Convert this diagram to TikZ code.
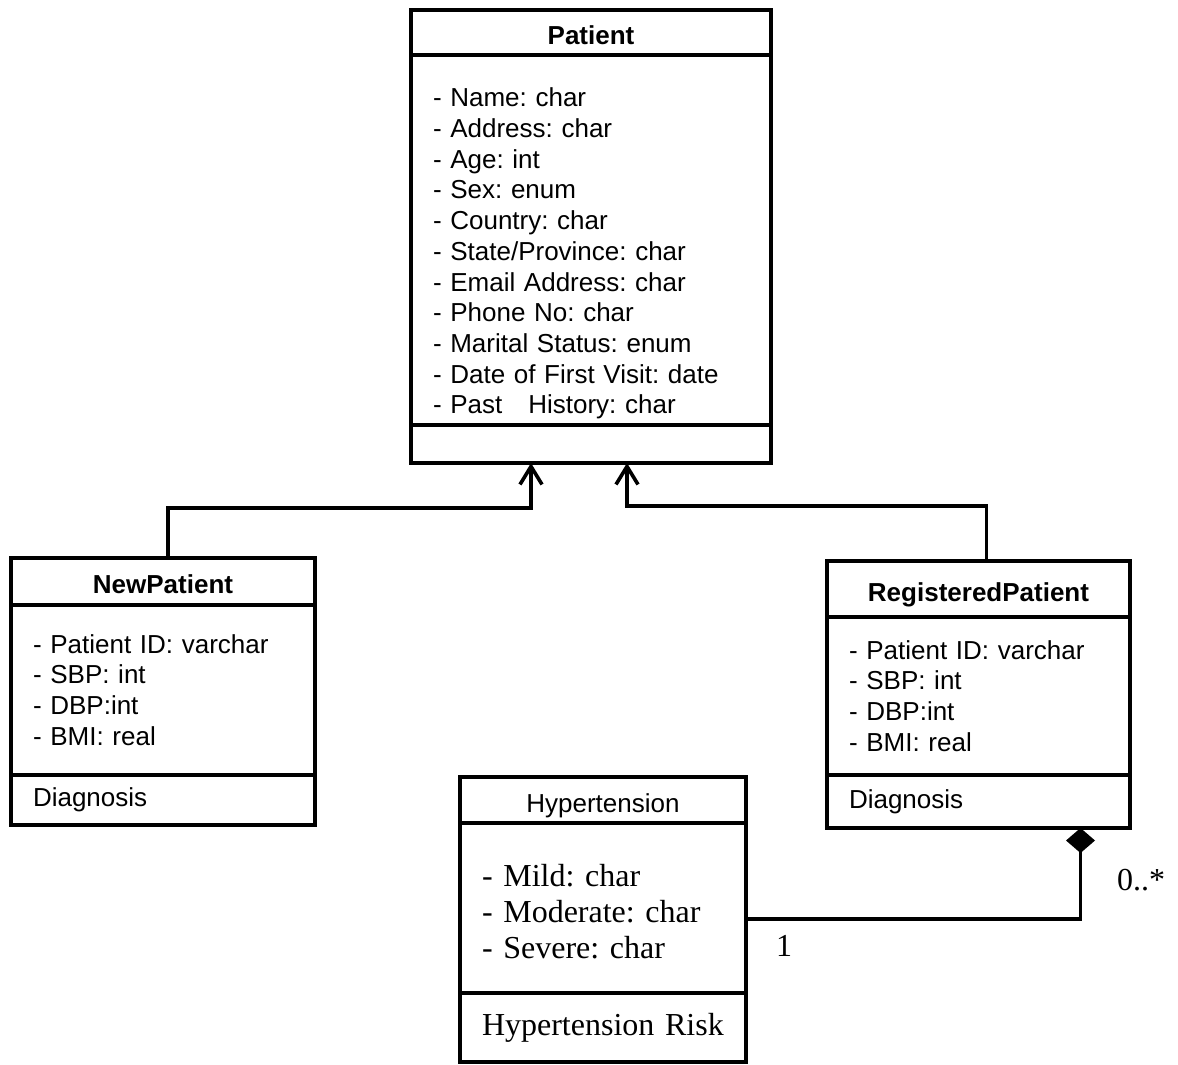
\documentclass[tikz,border=0pt]{standalone}
\usepackage{fontspec}
\setmainfont{Liberation Sans}
\newfontfamily\seriffont{Liberation Serif}
\usepackage{tikz}
\usetikzlibrary{arrows.meta,positioning}
\newcommand{\umlfont}{\frenchspacing\fontsize{13pt}{15.35pt}\selectfont}
\newcommand{\bigserif}{\frenchspacing\seriffont\fontsize{16pt}{18pt}\selectfont}
\tikzstyle{classhead} = [draw, line width=1.8pt, outer sep=0pt, anchor=north west, text height=12pt, text depth=0pt, font=\umlfont\bfseries]
\tikzstyle{compart} = [draw, line width=1.8pt, outer sep=0pt, align=left, inner xsep=11pt, inner ysep=0pt, font=\umlfont]
\tikzstyle{inherit} = [line width=1.8pt, -{Straight Barb[length=9pt,width=11pt]}]
\tikzstyle{composite} = [line width=1.8pt, {Diamond[length=12.5pt,width=14.5pt]}-]

\begin{document}
\begin{tikzpicture}[x=.5pt,y=-.5pt]
\useasboundingbox (0,0) rectangle (1178,1065);
% Patient
\node[classhead, minimum width=180pt, minimum height=22.5pt] (patient) at (411,10) {Patient};
\node[compart, text width=158pt, minimum height=185pt, below=0pt of patient] (patient-attr)
  {\rule{0pt}{23pt}- Name: char\\- Address: char\\- Age: int\\- Sex: enum\\- Country: char\\
   - State/Province: char\\- Email Address: char\\- Phone No: char\\- Marital Status: enum\\
   - Date of First Visit: date\\- Past\quad{}History: char};
\node[compart, text width=158pt, minimum height=19pt, below=0pt of patient-attr] (patient-ops) {};
% NewPatient
\node[classhead, minimum width=152pt, minimum height=23.5pt] (newp) at (11,558) {NewPatient};
\node[compart, text width=130pt, minimum height=85pt, below=0pt of newp] (newp-attr)
  {- Patient ID: varchar\\- SBP: int\\- DBP:int\\- BMI: real};
\node[compart, text width=130pt, minimum height=25pt, below=0pt of newp-attr] (newp-ops) {Diagnosis};
% RegisteredPatient
\node[classhead, minimum width=151.5pt, minimum height=28pt] (regp) at (827,561) {RegisteredPatient};
\node[compart, text width=129.5pt, minimum height=79pt, below=0pt of regp] (regp-attr)
  {- Patient ID: varchar\\- SBP: int\\- DBP:int\\- BMI: real};
\node[compart, text width=129.5pt, minimum height=26.5pt, below=0pt of regp-attr] (regp-ops) {Diagnosis};
% Hypertension
\node[classhead, font=\umlfont, minimum width=143pt, minimum height=23pt] (hyp) at (460,777) {Hypertension};
\node[compart, font=\bigserif, text width=121pt, minimum height=85pt, below=0pt of hyp] (hyp-attr)
  {\rule{0pt}{15pt}- Mild: char\\- Moderate: char\\- Severe: char};
\node[compart, font=\bigserif, text width=121pt, minimum height=34.5pt, below=0pt of hyp-attr] (hyp-ops) {Hypertension Risk};

% connectors
\draw[inherit] ([xshift=2.5pt]newp.north) |- ([xshift=-30pt,yshift=-22.5pt]patient-ops.south)
  -- ([xshift=-30pt]patient-ops.south);
\draw[inherit] ([xshift=4pt]regp.north) |- ([xshift=18pt,yshift=-21.5pt]patient-ops.south)
  -- ([xshift=18pt]patient-ops.south);
\draw[composite] ([xshift=51pt]regp-ops.south) |- ([yshift=-5.5pt]hyp-attr.east);
\node[font=\bigserif] (one) at (784,946) {1};
\node[font=\bigserif] (many) at (1141,880) {0..*};
\end{tikzpicture}
\end{document}
